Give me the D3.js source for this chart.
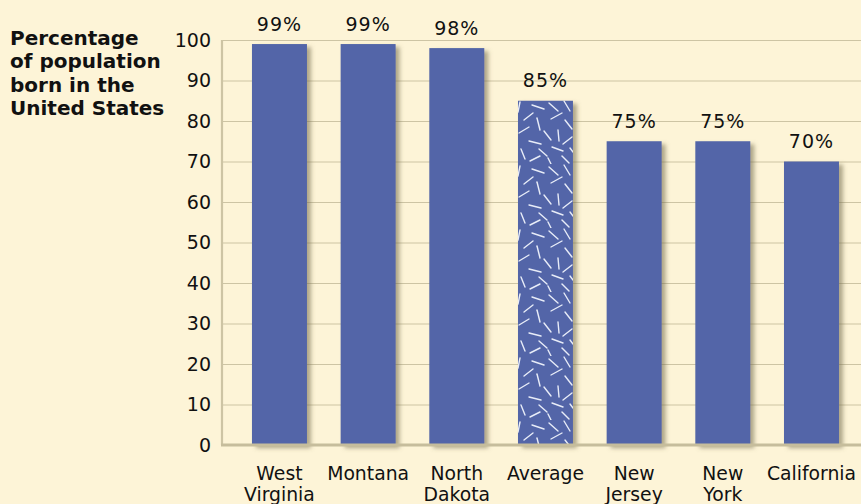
<!DOCTYPE html>
<html>
<head>
<meta charset="utf-8">
<script src="https://cdn.jsdelivr.net/npm/d3@7"></script>
<style>
  html, body { margin: 0; padding: 0; background: #fdf4d7; }
  svg { display: block; }
  text { font-family: "DejaVu Sans", sans-serif; fill: #111; }
</style>
</head>
<body>
<svg id="chart" width="861" height="504"></svg>
<script>
// ---- data ----
const categories = [["West", "Virginia"], ["Montana"], ["North", "Dakota"], ["Average"], ["New", "Jersey"], ["New", "York"], ["California"]];
const values = [99, 99, 98, 85, 75, 75, 70];
const patterned = [false, false, false, true, false, false, false];
const yTicks = [0, 10, 20, 30, 40, 50, 60, 70, 80, 90, 100];
const titleLines = ["Percentage", "of population", "born in the", "United States"];

(function () {
// ---- layout ----
const W = 861, H = 504;
const plotLeft = 222, plotTop = 40, plotBottom = 445;
const svg = d3.select("#chart");

svg.append("rect").attr("width", W).attr("height", H).attr("fill", "#fdf4d7");

const defs = svg.append("defs");
const f = defs.append("filter").attr("id", "shadow").attr("x", "-20%").attr("y", "-10%").attr("width", "150%").attr("height", "130%");
f.append("feDropShadow").attr("dx", 4).attr("dy", 3).attr("stdDeviation", 2.2)
  .attr("flood-color", "#6e6648").attr("flood-opacity", 0.55);

// speckle pattern for the "Average" bar (decorative texture)
const pat = defs.append("pattern").attr("id", "speckle").attr("patternUnits", "userSpaceOnUse")
  .attr("x", 518).attr("y", 100).attr("width", 56).attr("height", 64);
pat.append("rect").attr("width", 56).attr("height", 64).attr("fill", "#5265a8");
const strokes = [
  [2, 2, 0, 12], [14, 5, 26, 9], [31, 3, 40, 11], [46, 1, 52, 11],
  [6, 20, 15, 13], [19, 18, 22, 30], [33, 19, 44, 13], [47, 20, 54, 29],
  [1, 33, 11, 27], [26, 31, 33, 40], [40, 30, 41, 41], [11, 41, 23, 44],
  [45, 44, 54, 37], [3, 49, 7, 59], [21, 49, 29, 56], [34, 47, 45, 51],
  [12, 61, 22, 56], [44, 56, 51, 63], [30, 58, 33, 64], [52, 48, 55, 52]
];
pat.selectAll("line").data(strokes).join("line")
  .attr("x1", d => d[0]).attr("y1", d => d[1]).attr("x2", d => d[2]).attr("y2", d => d[3])
  .attr("stroke", "#e8ecf8").attr("stroke-width", 1.4).attr("stroke-linecap", "round");

const x = d3.scaleBand()
  .domain(d3.range(categories.length))
  .range([plotLeft, plotLeft + 88.67 * (7 - 0.38 + 2 * 0.338)])
  .paddingInner(0.38).paddingOuter(0.338);
const y = d3.scaleLinear().domain([0, 100]).range([plotBottom, plotTop]);

// gridlines
svg.append("g").selectAll("line").data(yTicks.filter(t => t > 0)).join("line")
  .attr("x1", plotLeft).attr("x2", W)
  .attr("y1", d => y(d) + 0.5).attr("y2", d => y(d) + 0.5)
  .attr("stroke", "#cdc4a4").attr("stroke-width", 1.2);

// left axis line
svg.append("line").attr("x1", plotLeft).attr("x2", plotLeft).attr("y1", plotTop).attr("y2", plotBottom)
  .attr("stroke", "#cdc4a4").attr("stroke-width", 2.2);

// y tick labels
const yAxis = d3.axisLeft(y).tickValues(yTicks).tickSize(0).tickPadding(11);
const yg = svg.append("g").attr("transform", `translate(${plotLeft},0)`).call(yAxis);
yg.select(".domain").remove();
yg.selectAll("text").style("font-family", '"DejaVu Sans", sans-serif').style("font-size", "19px").attr("fill", "#111");

// bars
svg.append("g").selectAll("rect").data(values).join("rect")
  .attr("x", (d, i) => x(i)).attr("width", x.bandwidth())
  .attr("y", d => y(d)).attr("height", d => plotBottom - y(d))
  .attr("fill", (d, i) => patterned[i] ? "url(#speckle)" : "#5265a8")
  .attr("filter", "url(#shadow)");

// bottom axis line
svg.append("line").attr("x1", plotLeft - 1).attr("x2", W).attr("y1", plotBottom).attr("y2", plotBottom)
  .attr("stroke", "#c6bd9c").attr("stroke-width", 2.8);

// value labels
svg.append("g").selectAll("text").data(values).join("text")
  .attr("x", (d, i) => x(i) + x.bandwidth() / 2)
  .attr("y", d => y(d) - 13.5)
  .attr("text-anchor", "middle").style("font-size", "19px").style("letter-spacing", "1px")
  .text(d => d + "%");

// category labels
const cg = svg.append("g").selectAll("text").data(categories).join("text")
  .attr("x", (d, i) => x(i) + x.bandwidth() / 2)
  .attr("y", 480).attr("text-anchor", "middle").style("font-size", "18.8px");
cg.selectAll("tspan").data(d => d).join("tspan")
  .attr("x", function () { return this.parentNode.getAttribute("x"); })
  .attr("dy", (d, i) => i === 0 ? 0 : 20.5)
  .text(d => d);

// title
svg.append("text").attr("x", 10).attr("y", 45)
  .style("font-size", "20px").style("font-weight", "bold")
  .selectAll("tspan").data(titleLines).join("tspan")
  .attr("x", 10).attr("dy", (d, i) => i === 0 ? 0 : 23.3)
  .text(d => d);
})();
</script>
</body>
</html>
